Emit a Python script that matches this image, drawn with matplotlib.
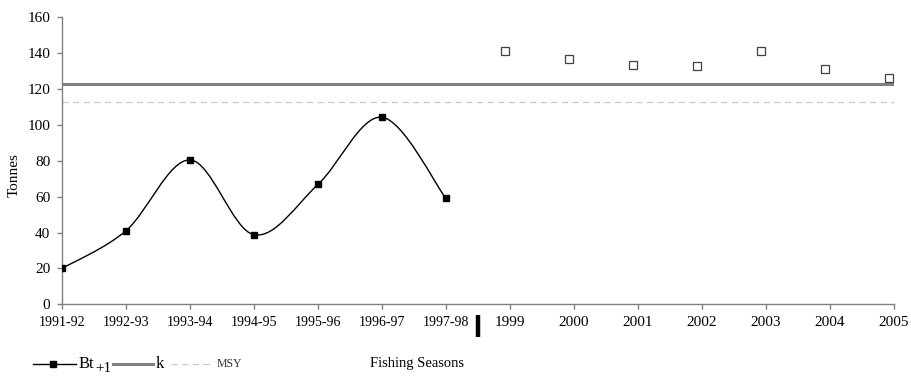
import numpy as np
import matplotlib
matplotlib.use("Agg")
import matplotlib.pyplot as plt
from matplotlib.path import Path
from matplotlib.patches import PathPatch
from matplotlib.lines import Line2D
import matplotlib.transforms as mtransforms

plt.rcParams['font.family'] = ['Liberation Serif', 'DejaVu Serif']

# data
seasons = ['1991-92', '1992-93', '1993-94', '1994-95', '1995-96', '1996-97', '1997-98']
years = ['1999', '2000', '2001', '2002', '2003', '2004', '2005']
bt = [20, 41, 80.5, 38.8, 66.8, 104.3, 59]
proj = [141, 137, 133.2, 132.8, 141.3, 131.3, 126]
k_val = 122.6
msy_val = 112.6

tick_labels = seasons + years
bt_x = np.arange(len(seasons))
proj_x = np.arange(len(seasons), len(tick_labels)) - 0.08

fig = plt.figure(figsize=(9.12, 3.76), dpi=100)
ax = fig.add_axes([0.068, 0.1907, 0.912, 0.7633])

# smoothed line (bezier through the points, like excel's smoothed line)
pts = np.column_stack([bt_x, bt]).astype(float)
ext = np.vstack([pts[0], pts, pts[-1]])
verts = [tuple(pts[0])]
codes = [Path.MOVETO]
for i in range(len(pts) - 1):
    p0, p1, p2, p3 = ext[i], ext[i + 1], ext[i + 2], ext[i + 3]
    c1 = p1 + (p2 - p0) / 6.0
    c2 = p2 - (p3 - p1) / 6.0
    verts += [tuple(c1), tuple(c2), tuple(p2)]
    codes += [Path.CURVE4] * 3
ax.add_patch(PathPatch(Path(verts, codes), facecolor='none', edgecolor='black', lw=1.0, zorder=3))
ax.plot(bt_x, bt, ls='none', marker='s', ms=4.5, color='black', zorder=4)

ax.axhline(k_val, color='#808080', lw=2.2, zorder=2)
ax.axhline(msy_val, color='#c8c8c8', lw=0.9, dashes=(5, 3.5), zorder=2)

ax.plot(proj_x, proj, ls='none', marker='s', ms=5.5, mfc='white', mec='#404040', mew=0.9,
        zorder=4, clip_on=False)

ax.set_xlim(0, len(tick_labels) - 1)
ax.set_ylim(0, 160)
ax.set_yticks(np.arange(0, 161, 20))
ax.set_xticks(np.arange(len(tick_labels)))
ax.set_xticklabels(tick_labels)
for lab in ax.get_xticklabels()[:len(seasons)]:
    lab.set_fontsize(10)
for lab in ax.get_xticklabels()[len(seasons):]:
    lab.set_fontsize(11)
for s in ['top', 'right']:
    ax.spines[s].set_visible(False)
for s in ['left', 'bottom']:
    ax.spines[s].set_color('#808080')
    ax.spines[s].set_linewidth(1.0)
ax.tick_params(axis='both', direction='out', length=3.5, width=1.0, color='#808080',
               labelcolor='black')
ax.tick_params(axis='y', labelsize=11, pad=5)
ax.tick_params(axis='x', pad=5)
ax.set_ylabel('Tonnes', fontsize=11)
ax.yaxis.set_label_coords(-0.05, 0.45)

# separator between seasons and years
trans = mtransforms.blended_transform_factory(ax.transData, ax.transAxes)
ax.add_line(Line2D([len(seasons) - 0.5] * 2, [-0.038, -0.113], transform=trans,
                   color='black', lw=3.2, solid_capstyle='butt', clip_on=False))

# legend row
ly = 1 - 364 / 376.0
def fx(px):
    return px / 912.0
fig.add_artist(Line2D([fx(33), fx(76)], [ly, ly], color='black', lw=1.0))
fig.add_artist(Line2D([fx(53)], [ly], color='black', marker='s', ms=4.5, ls='none'))
fig.text(fx(79), ly, 'Bt', fontsize=12, va='center', ha='left')
fig.text(fx(95), ly - 4 / 376.0, '+1', fontsize=11, va='center', ha='left')
fig.add_artist(Line2D([fx(113), fx(153)], [ly, ly], color='#808080', lw=2.2))
fig.text(fx(156), ly, 'k', fontsize=12, va='center', ha='left')
fig.add_artist(Line2D([fx(171), fx(212)], [ly, ly], color='#c8c8c8', lw=0.9, dashes=(5, 3.5)))
fig.text(fx(217), ly, 'MSY', fontsize=8.5, va='center', ha='left', color='#333333')
fig.text(fx(370), ly, 'Fishing Seasons', fontsize=10.5, va='center', ha='left')

fig.savefig('out.png', dpi=100)
